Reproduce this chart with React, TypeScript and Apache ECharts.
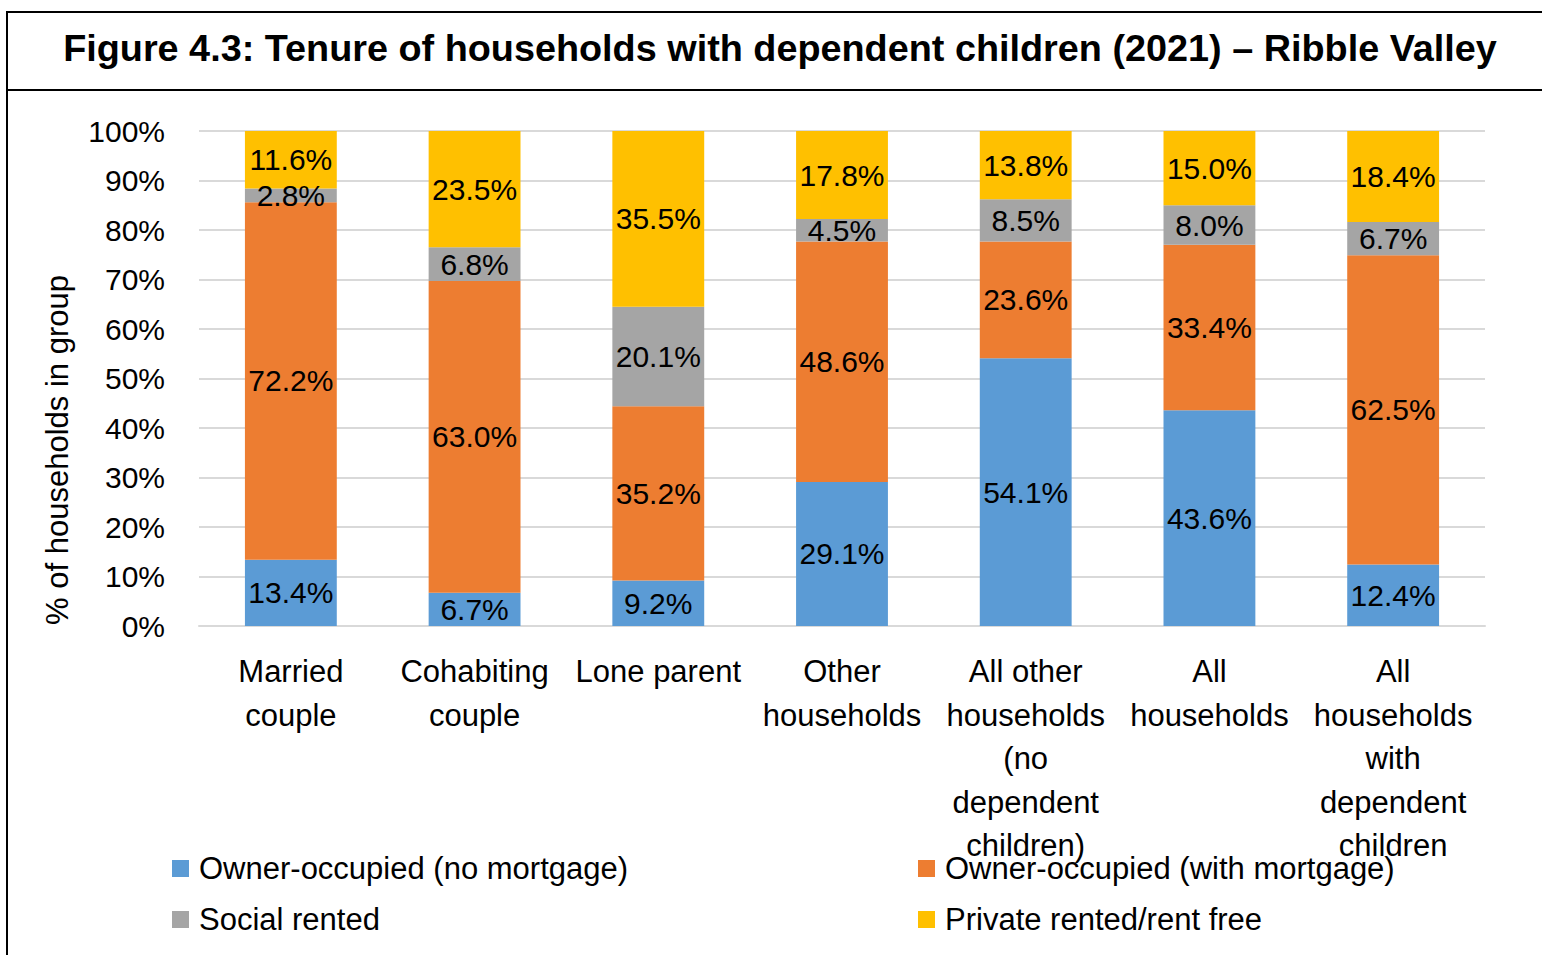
import React, { useEffect, useRef } from "react";
import * as echarts from "echarts";

const categories = [
  "Married\ncouple",
  "Cohabiting\ncouple",
  "Lone parent",
  "Other\nhouseholds",
  "All other\nhouseholds\n(no\ndependent\nchildren)",
  "All\nhouseholds",
  "All\nhouseholds\nwith\ndependent\nchildren",
];
const ownerNoMortgage = [13.4, 6.7, 9.2, 29.1, 54.1, 43.6, 12.4];
const ownerMortgage = [72.2, 63.0, 35.2, 48.6, 23.6, 33.4, 62.5];
const socialRented = [2.8, 6.8, 20.1, 4.5, 8.5, 8.0, 6.7];
const privateRented = [11.6, 23.5, 35.5, 17.8, 13.8, 15.0, 18.4];
const seriesNames = [
  "Owner-occupied (no mortgage)",
  "Owner-occupied (with mortgage)",
  "Social rented",
  "Private rented/rent free",
];
const colors = ["#5B9BD5", "#ED7D31", "#A5A5A5", "#FFC000"];

const FONT = "'Liberation Sans', Arial, sans-serif";

export default function App() {
  const ref = useRef<HTMLDivElement>(null);
  useEffect(() => {
    if (!ref.current) return;
    const chart = echarts.init(ref.current, undefined, { renderer: "svg" });
    const dataSets = [ownerNoMortgage, ownerMortgage, socialRented, privateRented];
    const legendCommon = {
      orient: "vertical",
      top: 848,
      itemWidth: 17,
      itemHeight: 17,
      itemGap: 20,
      icon: "rect",
      textStyle: { fontFamily: FONT, fontSize: 31, color: "#000", padding: [0, 0, 0, 5] },
    };
    chart.setOption({
      animation: false,
      backgroundColor: "#ffffff",
      textStyle: { fontFamily: FONT },
      graphic: [
        {
          type: "rect",
          shape: { x: 7, y: 12, width: 1545, height: 960 },
          style: { fill: "none", stroke: "#000", lineWidth: 2 },
          silent: true,
        },
        {
          type: "line",
          shape: { x1: 7, y1: 90, x2: 1542, y2: 90 },
          style: { stroke: "#000", lineWidth: 2 },
          silent: true,
        },
        {
          type: "text",
          x: 780,
          y: 48,
          style: {
            text: "Figure 4.3: Tenure of households with dependent children (2021) \u2013 Ribble Valley",
            fontFamily: FONT,
            fontWeight: "bold",
            fontSize: 37.8,
            fill: "#000",
            align: "center",
            verticalAlign: "middle",
          },
        },
        {
          type: "text",
          x: 57,
          y: 450,
          rotation: Math.PI / 2,
          style: {
            text: "% of households in group",
            fontFamily: FONT,
            fontSize: 31,
            fill: "#000",
            align: "center",
            verticalAlign: "middle",
          },
        },
      ],
      legend: [
        { ...legendCommon, data: [seriesNames[0], seriesNames[2]], left: 167 },
        { ...legendCommon, data: [seriesNames[1], seriesNames[3]], left: 913 },
      ],
      grid: { left: 199, right: 57, top: 131, bottom: 329, containLabel: false },
      xAxis: {
        type: "category",
        data: categories,
        axisLine: { lineStyle: { color: "#D9D9D9", width: 2 } },
        axisTick: { show: false },
        axisLabel: {
          interval: 0,
          margin: 24,
          fontFamily: FONT,
          fontSize: 31,
          color: "#000",
          lineHeight: 43.5,
        },
      },
      yAxis: {
        type: "value",
        min: 0,
        max: 100,
        interval: 10,
        axisLine: { show: false },
        axisTick: { show: false },
        splitLine: { lineStyle: { color: "#D9D9D9", width: 2 } },
        axisLabel: {
          formatter: (v: number) => v + "%",
          margin: 34,
          fontFamily: FONT,
          fontSize: 30,
          color: "#000",
        },
      },
      series: dataSets.map((d, i) => ({
        name: seriesNames[i],
        type: "bar",
        stack: "total",
        barWidth: "50%",
        data: d,
        itemStyle: { color: colors[i] },
        label: {
          show: true,
          position: "inside",
          formatter: (p: any) => Number(p.value).toFixed(1) + "%",
          fontFamily: FONT,
          fontSize: 30,
          color: "#000",
          textBorderWidth: 0,
        },
      })),
    });
    return () => chart.dispose();
  }, []);
  return (
    <div
      ref={ref}
      style={{ position: "fixed", left: 0, top: 0, width: 1542, height: 955 }}
    />
  );
}
